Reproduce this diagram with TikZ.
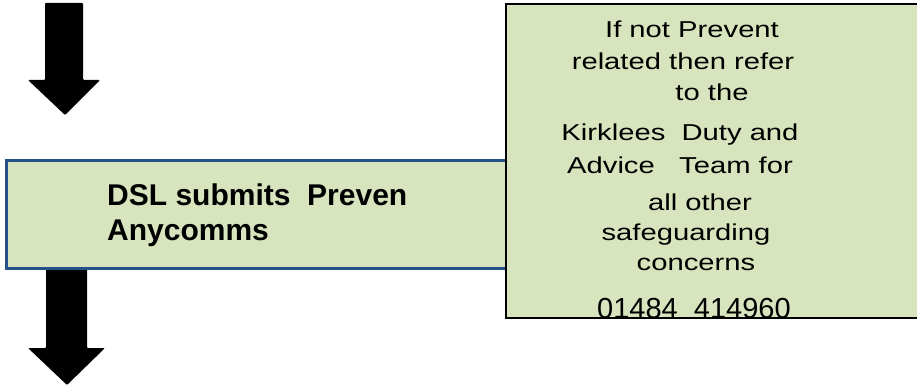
\documentclass[tikz,border=0pt]{standalone}
\usepackage{fontspec}
\setmainfont{Liberation Sans}
\newfontfamily\widefont[FakeStretch=1.27]{Liberation Sans}
\usetikzlibrary{positioning}
\definecolor{boxgreen}{HTML}{D7E4BD}
\definecolor{boxblue}{HTML}{26508A}

\begin{document}
\begin{tikzpicture}[
  x=1pt, y=-1pt,
  dslbox/.style={rectangle, draw=boxblue, line width=2.5pt, fill=boxgreen, anchor=north west, inner sep=0pt, minimum width=502pt, minimum height=108pt},
  referbox/.style={rectangle, fill=boxgreen, anchor=north west, inner sep=0pt, minimum width=430pt, minimum height=314pt},
  referline/.style={draw=black, line width=2pt},
  dsltext/.style={align=left, anchor=north west, inner sep=0pt, font=\fontsize{30}{35}\selectfont\bfseries},
  refertext/.style={anchor=base, inner sep=0pt, font=\widefont\fontsize{23}{27}\selectfont},
  phonetext/.style={anchor=base, inner sep=0pt, font=\fontsize{29}{33}\selectfont},
  blockarrow/.style={fill=black, rounded corners=1pt}
]
\useasboundingbox (0,0) rectangle (917,385);

% arrows down
\fill[blockarrow] (45,3) -- (83,3) -- (83,80) -- (100,80) -- (65,115) -- (28,80) -- (45,80) -- cycle;
\fill[blockarrow] (46,262) -- (87,262) -- (87,348) -- (105,348) -- (67,385) -- (28,348) -- (46,348) -- cycle;

% boxes
\node[dslbox] (dsl) at (5,159) {};
\node[dsltext] (dsltxt) at (107,184) {DSL submits\ \ Preven\\Anycomms};
\begin{scope}
  \clip (0,0) rectangle (917,385);
  \node[referbox] (refer) at (506,4) {};
  \draw[referline] (refer.north east) -- (refer.north west) -- (refer.south west) -- (refer.south east);
\end{scope}

\foreach \yy/\xx/\txt [count=\i] in {38/692/If not Prevent, 70/683/related then refer, 100/712/to the, 140/680/Kirklees\ \ Duty and, 173/680/Advice\ \ \ Team for, 210/700/all other, 240/686/safeguarding, 270/696/concerns}
  \node[refertext] (line\i) at (\xx,\yy) {\txt};
\node[phonetext] (phone) at (694,318) {01484\ \ 414960};
\end{tikzpicture}
\end{document}
